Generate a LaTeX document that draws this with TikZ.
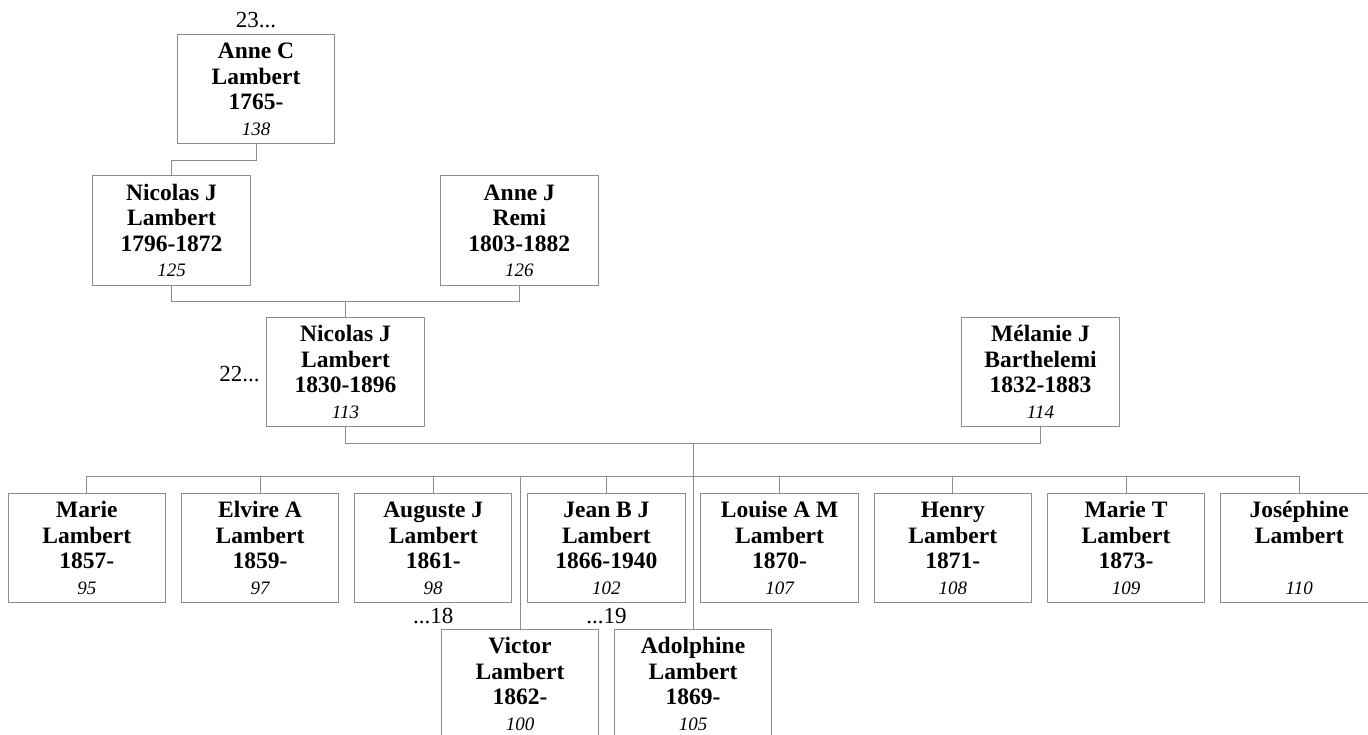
\documentclass[tikz,border=0pt]{standalone}
\usepackage{fontspec}
\setmainfont{Liberation Serif}
\usetikzlibrary{positioning, calc}

\definecolor{boxgray}{RGB}{140,140,140}

\tikzset{
  person/.style={rectangle, draw=boxgray, line width=1pt, minimum width=157.5pt, minimum height=109.5pt,
    inner sep=0pt, align=center, font=\fontsize{23.5}{25.5}\selectfont\bfseries},
  link/.style={draw=boxgray, line width=1pt},
  more/.style={inner sep=0pt, font=\fontsize{23}{25}\selectfont}
}
\newcommand{\who}[4]{\smash{#1}\rule{0pt}{16pt}\\#2\\#3\\{\mdseries\itshape\fontsize{19}{25.5}\selectfont #4}}

\begin{document}
\begin{tikzpicture}[x=1pt, y=-1pt, node distance=14.7pt]
\useasboundingbox (0,0) rectangle (1368,734);
\clip (0,0) rectangle (1368,734);

% ancestors
\node[person] (anne) at (256,89) {\who{Anne C}{Lambert}{1765-}{138}};
\node[person] (nic1) at (171.5,230.5) {\who{Nicolas J}{Lambert}{1796-1872}{125}};
\node[person] (remi) at (519.3,230.5) {\who{Anne J}{Remi}{1803-1882}{126}};
\node[person] (nic2) at (345.5,372) {\who{Nicolas J}{Lambert}{1830-1896}{113}};
\node[person] (mel) at (1040.5,372) {\who{Mélanie J}{Barthelemi}{1832-1883}{114}};

% children
\node[person] (marie) at (86.8,548) {\who{Marie}{Lambert}{1857-}{95}};
\node[person, right=of marie] (elvire) {\who{Elvire A}{Lambert}{1859-}{97}};
\node[person, right=of elvire] (aug) {\who{Auguste J}{Lambert}{1861-}{98}};
\node[person, right=of aug] (jean) {\who{Jean B J}{Lambert}{1866-1940}{102}};
\node[person, right=of jean] (louise) {\who{Louise A M}{Lambert}{1870-}{107}};
\node[person, right=of louise] (henry) {\who{Henry}{Lambert}{1871-}{108}};
\node[person, right=of henry] (marit) {\who{Marie T}{Lambert}{1873-}{109}};
\node[person, right=of marit] (jose) {\who{Joséphine}{Lambert}{\mbox{}}{110}};
\node[person] (victor) at (520,684) {\who{Victor}{Lambert}{1862-}{100}};
\node[person] (adol) at (693,684) {\who{Adolphine}{Lambert}{1869-}{105}};

% page references
\node[more, anchor=base] (p23) at ([yshift=6pt]anne.north) {23...};
\node[more, anchor=base east] (p22) at ([xshift=-6.5pt, yshift=-9.7pt]nic2.west) {22...};
\node[more, anchor=base] (p18) at ([yshift=-20.6pt]aug.south) {...18};
\node[more, anchor=base] (p19) at ([yshift=-20.6pt]jean.south) {...19};

\draw[link] (anne.south) -- ++(0,16) -| (nic1.north);
\draw[link] (nic1.south) -- ++(0,16) coordinate (bar1) -| (remi.south);
\draw[link] (nic2.north) -- (nic2.north |- bar1);
\draw[link] (nic2.south) -- ++(0,16) coordinate (bar2) -| (mel.south);
\draw[link] ($(bar2)!.5!(mel.south |- bar2)$) -- (adol.north);
\draw[link] (marie.north) -- ++(0,-16) coordinate (bar3) -| (jose.north);
\foreach \k in {elvire, aug, jean, louise, henry, marit, victor}
  \draw[link] (\k.north) -- (\k.north |- bar3);
\end{tikzpicture}
\end{document}
